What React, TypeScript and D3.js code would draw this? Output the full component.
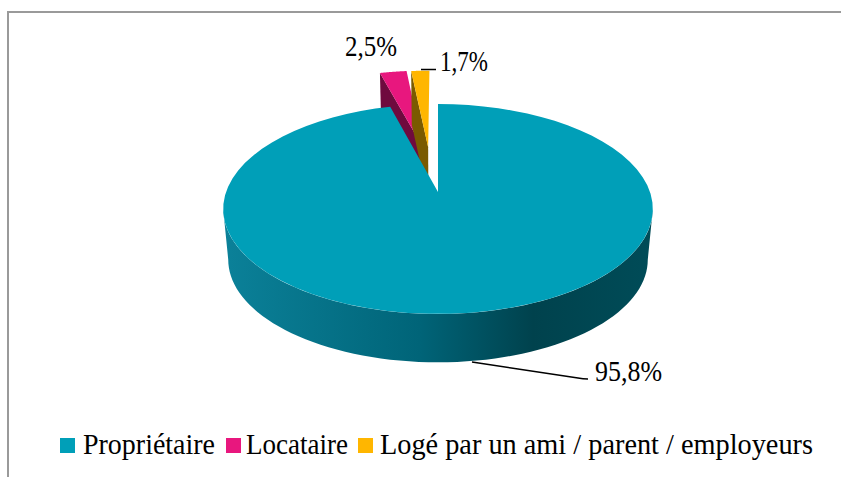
import React from "react";
import * as d3 from "d3";

const categories = ["Propriétaire", "Locataire", "Logé par un ami / parent / employeurs"];
const values = [95.8, 2.5, 1.7];
const valueLabels = ["95,8%", "2,5%", "1,7%"];
const sliceColors = ["#009fb8", "#e8177e", "#ffb600"];
const sideColors = ["#00707f", "#6f0a3e", "#7a5a00"];

const W = 841, H = 477;
const K = 0.162;
const cx = 438;
const topPlane = { y0: 192, rx: 212, sy: 102.2 };
const botPlane = { y0: 243, rx: 207, sy: 100 };
// exploded offset in disc units, per slice
const explode = [[0, 0], [-0.0768, 0.47], [-0.05, 0.47]];

type Plane = typeof topPlane;
const project = (p: Plane, u: number, v: number): [number, number] => {
  const w = 1 + K * v;
  return [cx + (p.rx * u) / w, p.y0 - (p.sy * v) / w];
};
const rim = (p: Plane, a: number, off = [0, 0]) =>
  project(p, Math.sin(a) + off[0], Math.cos(a) + off[1]);

const pie = d3.pie<number>().sort(null).startAngle(0).endAngle(2 * Math.PI);
const arcs = pie(values);
const line = d3.line();

const samples = (a0: number, a1: number) => d3.range(0, 73).map(i => a0 + ((a1 - a0) * i) / 72);

const wedgeTop = (i: number) => {
  const d = arcs[i], off = explode[i];
  const pts = samples(d.startAngle, d.endAngle).map(a => rim(topPlane, a, off));
  return line([project(topPlane, off[0], off[1]), ...pts]) + "Z";
};
const wedgeCut = (i: number) => {
  const d = arcs[i], off = explode[i];
  return line([
    rim(topPlane, d.startAngle, off),
    project(topPlane, off[0], off[1]),
    project(botPlane, off[0], off[1]),
    rim(botPlane, d.startAngle, off),
  ]) + "Z";
};
const a99 = Math.acos(-K);
const wallAngles = samples(a99, 2 * Math.PI - a99);
const wall =
  line([...wallAngles.map(a => rim(topPlane, a)), ...wallAngles.slice().reverse().map(a => rim(botPlane, a))]) + "Z";

const gradX = d3.scaleLinear().domain([224, 653]).range([0, 100]);
const gradStops: [number, string][] = [
  [224, "#0b8199"], [420, "#006478"], [533, "#00424d"], [653, "#004c58"],
];

const legendSwatchX = [60, 226, 358];
const legendTextX = [83, 246, 380];
const legendTextW = [132, 102, 433];

export default function App() {
  return (
    <svg width={W} height={H} style={{ position: "absolute", left: 0, top: 0 }} fontFamily="'Liberation Serif', serif">
      <defs>
        <linearGradient id="wallG" gradientUnits="userSpaceOnUse" x1={224} x2={653} y1={0} y2={0}>
          {gradStops.map(([x, c]) => (
            <stop key={x} offset={`${gradX(x)}%`} stopColor={c} />
          ))}
        </linearGradient>
      </defs>
      <rect width={W} height={H} fill="#fff" />
      <path d="M8 477V12H841" fill="none" stroke="#9a9a9a" strokeWidth={2} />
      {[1, 2].map(i => (
        <g key={i}>
          <path d={wedgeCut(i)} fill={sideColors[i]} />
          <path d={wedgeTop(i)} fill={sliceColors[i]} />
        </g>
      ))}
      <path d={wall} fill="url(#wallG)" />
      <path d={wedgeTop(0)} fill={sliceColors[0]} />
      <path d="M472 362L578 378Q583 379 588 379" fill="none" stroke="#000" strokeWidth={1.5} />
      <path d="M421 69.5H436" fill="none" stroke="#000" strokeWidth={1.5} />
      <g fill="#000" fontSize={29}>
        <text x={595} y={381} textLength={67} lengthAdjust="spacingAndGlyphs">{valueLabels[0]}</text>
        <text x={345} y={56} textLength={52} lengthAdjust="spacingAndGlyphs">{valueLabels[1]}</text>
        <text x={440} y={71} textLength={48} lengthAdjust="spacingAndGlyphs">{valueLabels[2]}</text>
      </g>
      {categories.map((c, i) => (
        <g key={c}>
          <rect x={legendSwatchX[i]} y={438} width={15} height={15} fill={sliceColors[i]} />
          <text x={legendTextX[i]} y={454} fontSize={29} textLength={legendTextW[i]} lengthAdjust="spacingAndGlyphs">{c}</text>
        </g>
      ))}
    </svg>
  );
}
